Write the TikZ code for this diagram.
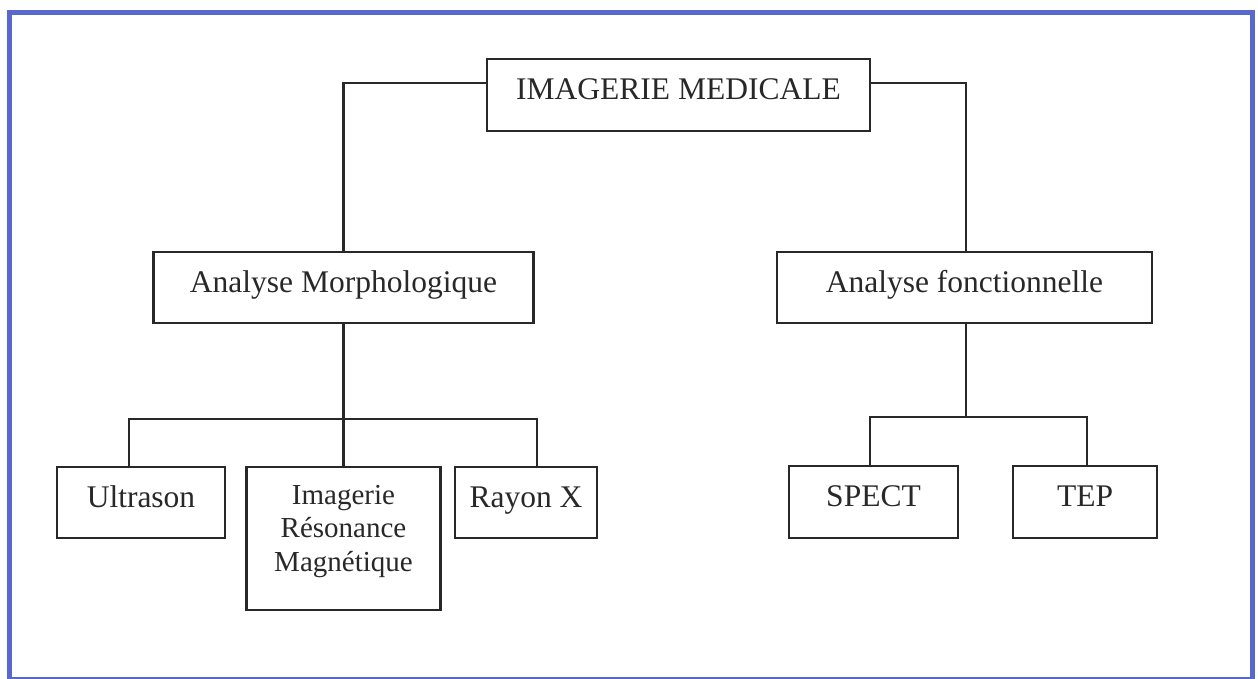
\documentclass[tikz,border=0pt]{standalone}
\usepackage{fontspec}
\setmainfont{Liberation Serif}
\usetikzlibrary{positioning}
\definecolor{cadre}{RGB}{88,104,204}
\definecolor{trait}{RGB}{40,40,40}

\begin{document}
\begin{tikzpicture}[x=1pt, y=-1pt]
\tikzset{
    every node/.style = {draw=trait, text=trait, rectangle, line width=2.2pt, inner sep=0pt, align=center,
        font=\fontsize{31.5}{36}\selectfont, text height=21pt, text depth=12pt},
    lien/.style = {draw=trait, line width=2.2pt},
    texte/.style = {draw=none, font=\fontsize{29}{33.5}\selectfont, text height={}, text depth={}}
}
\useasboundingbox (0,0) rectangle (1258,678);
\draw[cadre, line width=5pt] (9.5,12.5) rectangle (1252.5,679);

% -------------------------------------------------------
\node[minimum width=383pt, minimum height=72pt] (imagerie) at (678.5,95) {IMAGERIE MEDICALE};

\node[minimum width=380pt, minimum height=71pt] (morpho) at (343.5,287.5) {Analyse Morphologique};
\node[minimum width=375pt, minimum height=71pt] (fonct) at (964.5,287.5) {Analyse fonctionnelle};

\node[minimum width=168pt, minimum height=71pt] (ultrason) at (141,502.5) {Ultrason};
\node[minimum width=194pt, minimum height=143pt, anchor=north] (irm) at (343.5,466) {};
\node[texte, anchor=north] (irmtexte) at ([yshift=-18pt]irm.north) {Imagerie\\R\'esonance\\Magn\'etique};
\node[minimum width=142pt, minimum height=71pt] (rayonx) at (526,502.5) {Rayon X};

\node[minimum width=169pt, minimum height=72pt] (spect) at (873.5,502) {SPECT};
\node[minimum width=144pt, minimum height=72pt] (tep) at (1085,502) {TEP};

% -------------------------------------------------------
\draw[lien] ([yshift=12pt]imagerie.west) -| (morpho.north);
\draw[lien] ([yshift=12pt]imagerie.east) -| ([xshift=1.5pt]fonct.north);

\draw[lien] (morpho.south) -- (irm.north);
\draw[lien] ([xshift=-12pt]ultrason.north) -- ++(0,-47) -| ([xshift=11pt]rayonx.north);

\draw[lien] ([xshift=1.5pt]fonct.south) -- ([xshift=1.5pt]fonct.south |- 0,418);
\draw[lien] ([xshift=-3.5pt]spect.north) -- ++(0,-48) -| ([xshift=2pt]tep.north);
\end{tikzpicture}
\end{document}
